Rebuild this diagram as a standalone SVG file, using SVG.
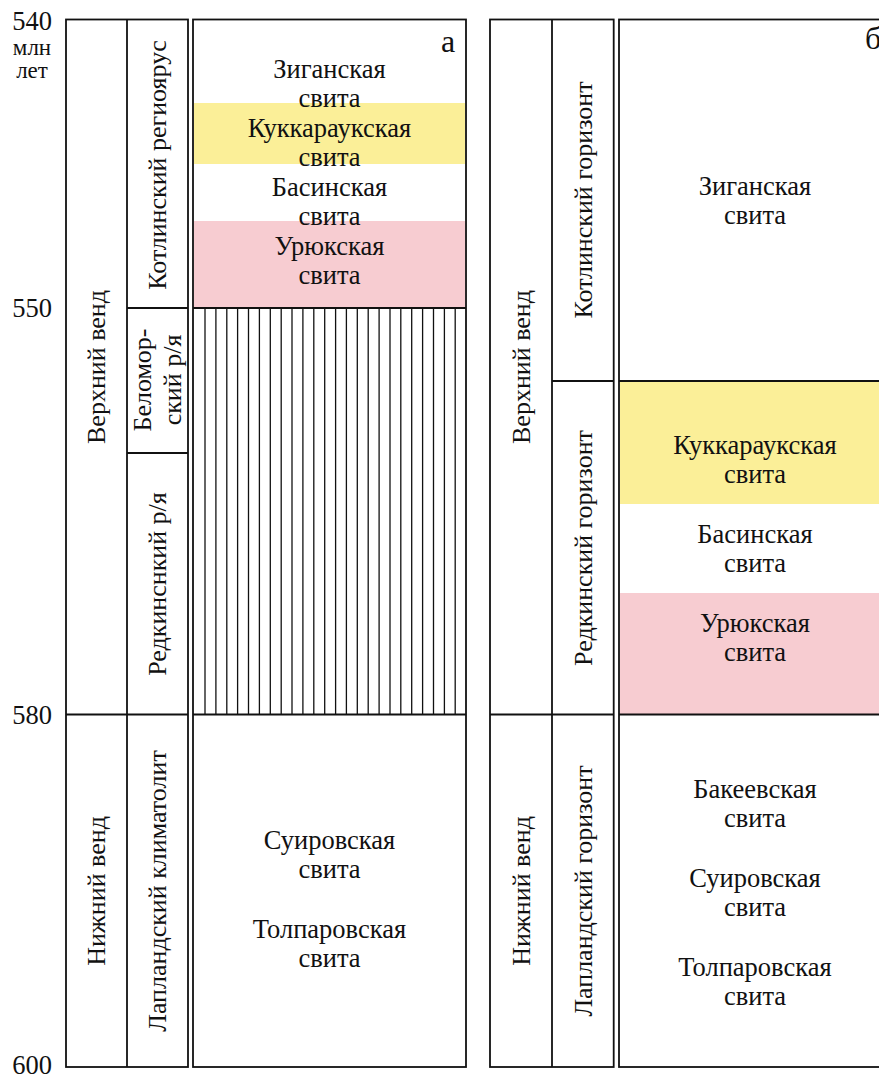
<svg xmlns="http://www.w3.org/2000/svg" width="879" height="1077" viewBox="0 0 879 1077" font-family="'Liberation Serif', 'Times New Roman', serif">
<style>
text{font-family:'Liberation Serif','Times New Roman',serif;fill:#111;font-size:26.5px}
.c{text-anchor:middle}
.v{text-anchor:middle;dominant-baseline:central;font-size:26px}
.s{font-size:23px}
.box{fill:none;stroke:#111;stroke-width:1.8}
.ln{stroke:#111;stroke-width:1.8}
.h{stroke:#111;stroke-width:1.3}
.y{fill:#FBEF98}
.p{fill:#F7CCD1}
</style>
<rect width="879" height="1077" fill="#fff"/>
<g id="axis">
<text class="c" x="32" y="30">540</text>
<text class="c s" x="32" y="55">млн</text>
<text class="c s" x="32" y="78">лет</text>
<text class="c" x="32" y="317">550</text>
<text class="c" x="32" y="724">580</text>
<text class="c" x="32" y="1074">600</text>
</g>
<g id="panel-a">
<g id="a-fills">
<rect class="y" x="194" y="103" width="271" height="61"/>
<rect class="p" x="194" y="221" width="271" height="87"/>
</g>
<g id="a-hatch">
<line class="h" x1="205" y1="308" x2="205" y2="714.5"/>
<line class="h" x1="215.9" y1="308" x2="215.9" y2="714.5"/>
<line class="h" x1="226.8" y1="308" x2="226.8" y2="714.5"/>
<line class="h" x1="237.6" y1="308" x2="237.6" y2="714.5"/>
<line class="h" x1="248.5" y1="308" x2="248.5" y2="714.5"/>
<line class="h" x1="259.4" y1="308" x2="259.4" y2="714.5"/>
<line class="h" x1="270.3" y1="308" x2="270.3" y2="714.5"/>
<line class="h" x1="281.2" y1="308" x2="281.2" y2="714.5"/>
<line class="h" x1="292" y1="308" x2="292" y2="714.5"/>
<line class="h" x1="302.9" y1="308" x2="302.9" y2="714.5"/>
<line class="h" x1="313.8" y1="308" x2="313.8" y2="714.5"/>
<line class="h" x1="324.7" y1="308" x2="324.7" y2="714.5"/>
<line class="h" x1="335.6" y1="308" x2="335.6" y2="714.5"/>
<line class="h" x1="346.4" y1="308" x2="346.4" y2="714.5"/>
<line class="h" x1="357.3" y1="308" x2="357.3" y2="714.5"/>
<line class="h" x1="368.2" y1="308" x2="368.2" y2="714.5"/>
<line class="h" x1="379.1" y1="308" x2="379.1" y2="714.5"/>
<line class="h" x1="390" y1="308" x2="390" y2="714.5"/>
<line class="h" x1="400.8" y1="308" x2="400.8" y2="714.5"/>
<line class="h" x1="411.7" y1="308" x2="411.7" y2="714.5"/>
<line class="h" x1="422.6" y1="308" x2="422.6" y2="714.5"/>
<line class="h" x1="433.5" y1="308" x2="433.5" y2="714.5"/>
<line class="h" x1="444.4" y1="308" x2="444.4" y2="714.5"/>
<line class="h" x1="455.2" y1="308" x2="455.2" y2="714.5"/>
</g>
<g id="a-frame">
<rect class="box" x="66" y="19.5" width="122" height="1047.5"/>
<line class="ln" x1="127" y1="19.5" x2="127" y2="1067"/>
<line class="ln" x1="66" y1="714.5" x2="188" y2="714.5"/>
<line class="ln" x1="127" y1="308" x2="188" y2="308"/>
<line class="ln" x1="127" y1="453" x2="188" y2="453"/>
<rect class="box" x="193" y="19.5" width="273" height="1047.5"/>
<line class="ln" x1="193" y1="308" x2="466" y2="308"/>
<line class="ln" x1="193" y1="714.5" x2="466" y2="714.5"/>
</g>
<g id="a-labels">
<text x="448" y="52" class="c" style="font-size:32px">а</text>
<text class="v" transform="translate(96.5,367) rotate(-90)">Верхний венд</text>
<text class="v" transform="translate(96.5,891) rotate(-90)">Нижний венд</text>
<text class="v" transform="translate(157.5,165) rotate(-90)">Котлинский региоярус</text>
<text class="v" transform="translate(142.5,380) rotate(-90)">Беломор-</text>
<text class="v" transform="translate(172,380) rotate(-90)">ский р/я</text>
<text class="v" transform="translate(157.5,584) rotate(-90)">Редкинснкий р/я</text>
<text class="v" transform="translate(157.5,891) rotate(-90)">Лапландский климатолит</text>
<text class="c" x="329.5" y="78">Зиганская</text>
<text class="c" x="329.5" y="107">свита</text>
<text class="c" x="329.5" y="137">Куккараукская</text>
<text class="c" x="329.5" y="166">свита</text>
<text class="c" x="329.5" y="196">Басинская</text>
<text class="c" x="329.5" y="225">свита</text>
<text class="c" x="329.5" y="255">Урюкская</text>
<text class="c" x="329.5" y="284">свита</text>
<text class="c" x="329.5" y="849">Суировская</text>
<text class="c" x="329.5" y="878">свита</text>
<text class="c" x="329.5" y="938">Толпаровская</text>
<text class="c" x="329.5" y="967">свита</text>
</g>
</g>
<g id="panel-b">
<g id="b-fills">
<rect class="y" x="620" y="381" width="270" height="123"/>
<rect class="p" x="620" y="593" width="270" height="121.5"/>
</g>
<g id="b-frame">
<rect class="box" x="490" y="19.5" width="123.7" height="1047.5"/>
<line class="ln" x1="552" y1="19.5" x2="552" y2="1067"/>
<line class="ln" x1="552" y1="381" x2="613.7" y2="381"/>
<line class="ln" x1="490" y1="714.5" x2="613.7" y2="714.5"/>
<rect class="box" x="619" y="19.5" width="280" height="1047.5"/>
<line class="ln" x1="619" y1="381" x2="899" y2="381"/>
<line class="ln" x1="619" y1="714.5" x2="899" y2="714.5"/>
</g>
<g id="b-labels">
<text x="865" y="49" style="font-size:32px">б</text>
<text class="v" transform="translate(521,367) rotate(-90)">Верхний венд</text>
<text class="v" transform="translate(521,891) rotate(-90)">Нижний венд</text>
<text class="v" transform="translate(583,200) rotate(-90)">Котлинский горизонт</text>
<text class="v" transform="translate(583,548) rotate(-90)">Редкинский горизонт</text>
<text class="v" transform="translate(583,891) rotate(-90)">Лапландский горизонт</text>
<text class="c" x="755" y="195">Зиганская</text>
<text class="c" x="755" y="224">свита</text>
<text class="c" x="755" y="454">Куккараукская</text>
<text class="c" x="755" y="483">свита</text>
<text class="c" x="755" y="543">Басинская</text>
<text class="c" x="755" y="572">свита</text>
<text class="c" x="755" y="632">Урюкская</text>
<text class="c" x="755" y="661">свита</text>
<text class="c" x="755" y="798">Бакеевская</text>
<text class="c" x="755" y="827">свита</text>
<text class="c" x="755" y="887">Суировская</text>
<text class="c" x="755" y="916">свита</text>
<text class="c" x="755" y="976">Толпаровская</text>
<text class="c" x="755" y="1005">свита</text>
</g>
</g>
</svg>
